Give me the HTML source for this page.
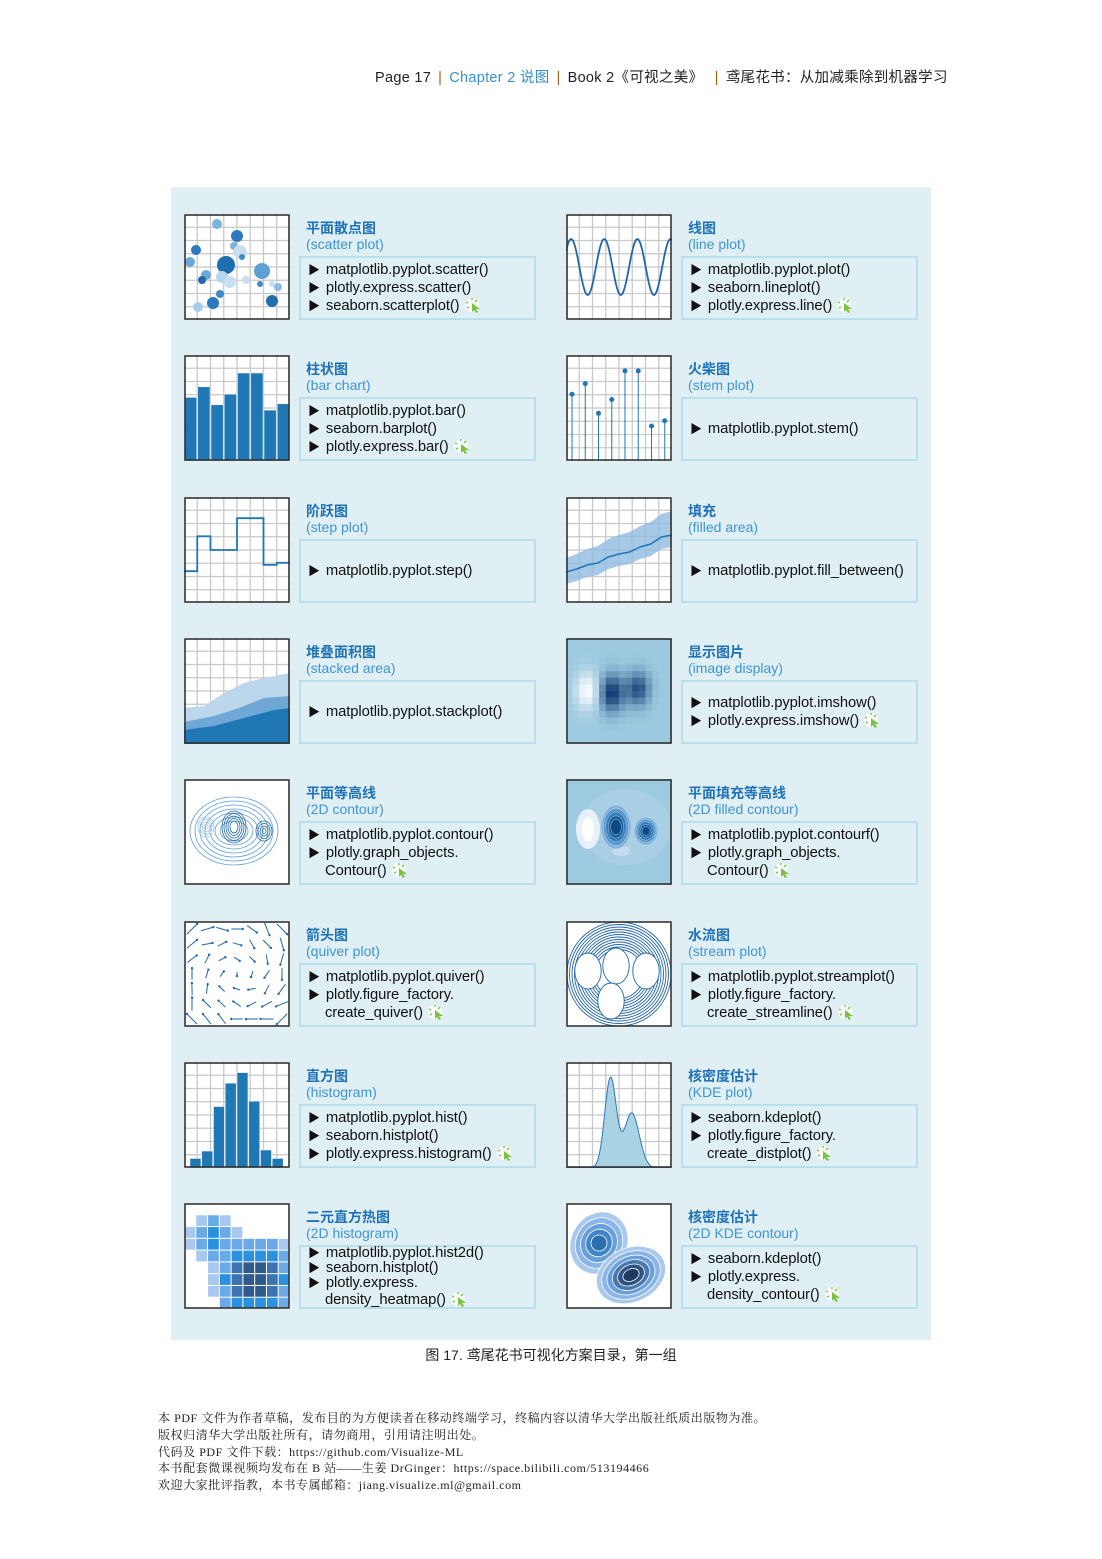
<!DOCTYPE html>
<html><head><meta charset="utf-8"><style>
body{margin:0;background:#fff;}
#page{position:relative;width:1102px;height:1559px;overflow:hidden;font-family:"Liberation Sans","Noto Sans CJK SC",sans-serif;}
.hdr{position:absolute;top:66px;left:375px;font-size:14.5px;color:#222;white-space:nowrap;letter-spacing:0.3px;}
.hdr .sep{color:#b05a10;margin:0 7px;}
.hdr .ch{color:#3a8fd0;}
#panel{position:absolute;left:171px;top:187px;width:760px;height:1153px;background:#dfeff3;}
.thumb{position:absolute;width:106px;height:106px;}
.title{position:absolute;font-size:14px;font-weight:bold;color:#1f72b8;white-space:nowrap;}
.sub{position:absolute;font-size:14px;color:#3d95d6;white-space:nowrap;}
.box{position:absolute;width:237px;height:64px;border:2px solid #b9dfea;display:flex;flex-direction:column;justify-content:center;padding-left:7px;box-sizing:border-box;}
.ln{font-size:14.8px;line-height:18px;color:#111;white-space:nowrap;letter-spacing:-0.1px;}
.tight .ln{line-height:15px;}
.ln .tri{font-size:12px;margin-right:6px;}
.ind{padding-left:17px;}
.cur{display:inline-block;width:18px;height:16px;vertical-align:-3px;margin-left:4px;}
.cap{position:absolute;top:1345px;left:0;width:1102px;text-align:center;font-size:14px;color:#222;}
.foot{position:absolute;left:158px;top:1410px;font-family:"Liberation Serif","Noto Serif CJK SC",serif;font-size:12px;line-height:16.8px;color:#222;white-space:nowrap;letter-spacing:0.55px;}
</style></head><body>
<div id="page">
<div class="hdr">Page 17<span class="sep">|</span><span class="ch">Chapter 2 说图</span><span class="sep">|</span>Book 2《可视之美》<span class="sep"> |</span>鸢尾花书：从加减乘除到机器学习</div>
<div id="panel"></div>
<div class="cap">图 17. 鸢尾花书可视化方案目录，第一组</div>
<div class="foot">本 PDF 文件为作者草稿，发布目的为方便读者在移动终端学习，终稿内容以清华大学出版社纸质出版物为准。<br>版权归清华大学出版社所有，请勿商用，引用请注明出处。<br>代码及 PDF 文件下载：https://github.com/Visualize-ML<br>本书配套微课视频均发布在 B 站——生姜 DrGinger：https://space.bilibili.com/513194466<br>欢迎大家批评指教，本书专属邮箱：jiang.visualize.ml@gmail.com</div>
</div>
<script>
const barValues=[60,70,53,63,83,83,48,54];
const stemValues=[63,73,45,58,85,85,33,38];
const histValues=[9,16,58,80,90,63,17,9];
const stepValues=[30,63,50,50,80,80,36,38];
const items=[
["平面散点图","scatter plot",["matplotlib.pyplot.scatter()","plotly.express.scatter()","seaborn.scatterplot()"],"scatter"],
["线图","line plot",["matplotlib.pyplot.plot()","seaborn.lineplot()","plotly.express.line()"],"line"],
["柱状图","bar chart",["matplotlib.pyplot.bar()","seaborn.barplot()","plotly.express.bar()"],"bar"],
["火柴图","stem plot",["matplotlib.pyplot.stem()"],"stem"],
["阶跃图","step plot",["matplotlib.pyplot.step()"],"step"],
["填充","filled area",["matplotlib.pyplot.fill_between()"],"fill"],
["堆叠面积图","stacked area",["matplotlib.pyplot.stackplot()"],"stack"],
["显示图片","image display",["matplotlib.pyplot.imshow()","plotly.express.imshow()"],"imshow"],
["平面等高线","2D contour",["matplotlib.pyplot.contour()","plotly.graph_objects.","*Contour()"],"contour"],
["平面填充等高线","2D filled contour",["matplotlib.pyplot.contourf()","plotly.graph_objects.","*Contour()"],"contourf"],
["箭头图","quiver plot",["matplotlib.pyplot.quiver()","plotly.figure_factory.","*create_quiver()"],"quiver"],
["水流图","stream plot",["matplotlib.pyplot.streamplot()","plotly.figure_factory.","*create_streamline()"],"stream"],
["直方图","histogram",["matplotlib.pyplot.hist()","seaborn.histplot()","plotly.express.histogram()"],"hist"],
["核密度估计","KDE plot",["seaborn.kdeplot()","plotly.figure_factory.","*create_distplot()"],"kde"],
["二元直方热图","2D histogram",["matplotlib.pyplot.hist2d()","seaborn.histplot()","plotly.express.","*density_heatmap()"],"hist2d"],
["核密度估计","2D KDE contour",["seaborn.kdeplot()","plotly.express.","*density_contour()"],"kde2d"]
];
const noCursor={stem:1,step:1,fill:1,stack:1};
const B='#1f77b4';
function grid(){let s='<rect x="0" y="0" width="106" height="106" fill="#fff"/>';for(let i=1;i<8;i++){const p=i*13.25;s+=`<line x1="${p}" y1="0" x2="${p}" y2="106" stroke="#c8c8c8" stroke-width="1.3"/><line x1="0" y1="${p}" x2="106" y2="${p}" stroke="#c8c8c8" stroke-width="1.3"/>`;}return s;}
function yv(v){return 106-v*106/100;}
function draw(t){
 let s='';
 if(t==='scatter'){s+=grid();const pts=[[33,10,5,'#7fb2dd'],[53,22,6,'#2a78bd'],[12,36,5,'#2a78bd'],[50,32,4,'#7fb2dd'],[56,38,7,'#c9dff1'],[6,48,5,'#6aa8d8'],[42,51,9,'#1f6fb0'],[58,43,3,'#3d8ac8'],[78,57,8,'#5da0d4'],[22,61,5,'#6aa8d8'],[18,66,4,'#2166a8'],[38,63,6,'#b8d5ee'],[46,68,6,'#c9dff1'],[62,66,4,'#c9dff1'],[76,70,3,'#3d8ac8'],[88,70,3,'#c9dff1'],[94,73,4,'#8bbbe2'],[36,80,4,'#3d8ac8'],[29,89,6,'#2a78bd'],[14,93,5,'#a8cdeb'],[88,87,6,'#1f6fb0']];pts.forEach(p=>s+=`<circle cx="${p[0]}" cy="${p[1]}" r="${p[2]}" fill="${p[3]}"/>`);}
 if(t==='line'){s+=grid();let d='';for(let i=0;i<=106;i++){const y=53-28*Math.sin(i/106*Math.PI*2*3.2+0.6);d+=(i?'L':'M')+i+','+y.toFixed(1);}s+=`<path d="${d}" fill="none" stroke="#2166a8" stroke-width="1.8"/>`;}
 if(t==='bar'){s+=grid();const w=106/barValues.length;barValues.forEach((v,i)=>s+=`<rect x="${i*w+0.5}" y="${yv(v)}" width="${w-1}" height="${106-yv(v)}" fill="${B}" stroke="#dfe9f2" stroke-width="0.6"/>`);}
 if(t==='stem'){s+=grid();const w=106/stemValues.length;stemValues.forEach((v,i)=>{const x=6+i*w;s+=`<line x1="${x}" y1="106" x2="${x}" y2="${yv(v)}" stroke="${B}" stroke-width="1"/><circle cx="${x}" cy="${yv(v)}" r="2.5" fill="${B}"/>`;});}
 if(t==='step'){s+=grid();const w=106/stepValues.length;let d='M0,'+yv(stepValues[0]);stepValues.forEach((v,i)=>{d+=`L${i*w},${yv(v)}L${(i+1)*w},${yv(v)}`;});s+=`<path d="${d}" fill="none" stroke="${B}" stroke-width="1.8"/>`;}
 if(t==='fill'){s+=grid();const mid=[75,72,68,66,60,57,55,50,47,40,38];let up='',lo='',m='';mid.forEach((v,i)=>{const x=i*10.6;up+=(i?'L':'M')+x+','+(v-14-i);m+=(i?'L':'M')+x+','+v;});for(let i=mid.length-1;i>=0;i--)lo+='L'+(i*10.6)+','+(mid[i]+12);s+=`<path d="${up}${lo}Z" fill="#8fbbe0" opacity="0.8"/><path d="${m}" fill="none" stroke="${B}" stroke-width="1.5"/>`;}
 if(t==='stack'){s+=grid();s+=`<path d="M0,70 L20,68 L40,55 L60,45 L80,40 L106,35 L106,106 L0,106Z" fill="#bcd6ec"/><path d="M0,84 L30,78 L55,70 L80,60 L106,58 L106,106 L0,106Z" fill="#6fa7d6"/><path d="M0,92 L30,88 L60,80 L90,72 L106,70 L106,106 L0,106Z" fill="${B}"/>`;}
 if(t==='imshow'){s+='<rect width="106" height="106" fill="#9ecae1"/>';const n=16,cell=106/n;for(let i=0;i<n;i++)for(let j=0;j<n;j++){const x=(j+.5)/n,y=(i+.5)/n;const v=0.55*Math.exp(-((x-0.2)**2/0.012+(y-0.5)**2/0.03))-0.6*Math.exp(-((x-0.43)**2/0.015+(y-0.52)**2/0.03))-0.5*Math.exp(-((x-0.68)**2/0.012+(y-0.48)**2/0.025));let r,g,b;if(v>0){r=158+97*v*1.8;g=202+53*v*1.8;b=225+30*v*1.8;}else{const a=Math.min(1,-v*1.6);r=158-150*a;g=202-154*a;b=225-118*a;}s+=`<rect x="${j*cell}" y="${i*cell}" width="${cell+0.3}" height="${cell+0.3}" fill="rgb(${Math.min(255,r)|0},${Math.min(255,g)|0},${Math.min(255,b)|0})"/>`;}}
 if(t==='contour'){s+='<rect width="106" height="106" fill="#fff"/>';for(let k=0;k<7;k++){s+=`<ellipse cx="50" cy="52" rx="${44-k*5}" ry="${34-k*4}" fill="none" stroke="#5d9fd3" stroke-width="0.8"/>`;}[[50,48],[80,52],[22,48]].forEach((c,idx)=>{for(let k=0;k<5;k++)s+=`<ellipse cx="${c[0]}" cy="${c[1]}" rx="${(idx==0?12:8)-k*2}" ry="${(idx==0?16:10)-k*2.5}" fill="none" stroke="${idx==2?'#9cc4e6':'#2166a8'}" stroke-width="0.8"/>`;});}
 if(t==='contourf'){s+='<rect width="106" height="106" fill="#9ecae1"/><ellipse cx="60" cy="48" rx="45" ry="38" fill="#a9cfe4"/><ellipse cx="22" cy="50" rx="12" ry="20" fill="#e8f1fa"/><ellipse cx="22" cy="50" rx="6" ry="12" fill="#fff"/><ellipse cx="55" cy="72" rx="9" ry="5" fill="#c5dcef"/>';['#7fb3dc','#5596cb','#3479b9','#1d5f9f','#0b4a87'].forEach((c,k)=>{s+=`<ellipse cx="50" cy="48" rx="${15-k*2.4}" ry="${22-k*3.6}" fill="${c}" stroke="#cfe2f1" stroke-width="0.4"/><ellipse cx="80" cy="52" rx="${12-k*2}" ry="${14-k*2.4}" fill="${c}" stroke="#cfe2f1" stroke-width="0.4"/>`;});}
 if(t==='quiver'){s+='<rect width="106" height="106" fill="#fff"/>';for(let i=0;i<7;i++)for(let j=0;j<7;j++){const x=8+j*15,y=8+i*15;const a=Math.atan2(y-53,x-53)+Math.PI/2+(i*7+j)%3*0.3;const L=2+Math.hypot(x-53,y-53)/12;const dx=Math.cos(a)*L,dy=Math.sin(a)*L;s+=`<line x1="${x-dx}" y1="${y-dy}" x2="${x+dx}" y2="${y+dy}" stroke="#2166a8" stroke-width="1"/><circle cx="${x+dx}" cy="${y+dy}" r="1.2" fill="#2166a8"/>`;}}
 if(t==='stream'){s+='<rect width="106" height="106" fill="#fff"/>';for(let k=0;k<12;k++)s+=`<ellipse cx="53" cy="53" rx="${52-k*2.5}" ry="${52-k*2.5}" fill="none" stroke="#2166a8" stroke-width="0.9"/>`;[[22,50],[50,45],[80,50],[45,80]].forEach(c=>{for(let k=1;k<7;k++)s+=`<ellipse cx="${c[0]}" cy="${c[1]}" rx="${k*2.2}" ry="${k*3}" fill="#fff" stroke="#2166a8" stroke-width="0.9"/>`;});}
 if(t==='hist'){s+=grid();const w=(106-12)/histValues.length;histValues.forEach((v,i)=>s+=`<rect x="${6+i*w}" y="${yv(v)}" width="${w-0.8}" height="${106-yv(v)}" fill="${B}" stroke="#e5eef6" stroke-width="0.6"/>`);}
 if(t==='kde'){s+=grid();let d='M0,106';for(let i=0;i<=106;i++){const x=i/106;const y=90*Math.exp(-((x-0.42)**2)/0.006)+55*Math.exp(-((x-0.62)**2)/0.01);d+=`L${i},${(106-y).toFixed(1)}`;}d+='L106,106Z';s+=`<path d="${d}" fill="#a9d3e3" stroke="#2a78bd" stroke-width="1"/>`;}
 if(t==='hist2d'){s+='<rect width="106" height="106" fill="#fff"/>';const cols=['#a8c8f0','#6aaae8','#2a90e0','#3b74b0','#2f5a8a','#1d3f66'];const cw=106/9;for(let i=0;i<9;i++)for(let j=0;j<9;j++){const d1=Math.hypot(j-2,i-2.5),d2=Math.hypot(j-5.5,i-6);const v=Math.max(3-d1*1.2,5.5-d2*1.3);if(v>0.3)s+=`<rect x="${j*cw+0.5}" y="${i*cw+0.5}" width="${cw-1}" height="${cw-1}" fill="${cols[Math.min(5,Math.floor(v))]}"/>`;}}
 if(t==='kde2d'){s+='<rect width="106" height="106" fill="#fff"/>';const c1=['#a9c9ef','#8ab5e8','#6a9fdc','#3f85c8','#2a6eb0'];c1.forEach((c,k)=>{s+=`<ellipse cx="33" cy="40" rx="${28-k*5}" ry="${32-k*6}" transform="rotate(30 33 40)" fill="${c}" stroke="#fff" stroke-width="0.8"/>`;});['#a9c9ef','#8ab5e8','#6a9fdc','#4978b0','#2e5380','#1f3c60'].forEach((c,k)=>{s+=`<ellipse cx="65" cy="72" rx="${36-k*5.5}" ry="${27-k*4.2}" transform="rotate(-25 65 72)" fill="${c}" stroke="#fff" stroke-width="0.8"/>`;});}
 s+='<rect x="1" y="1" width="104" height="104" fill="none" stroke="#333" stroke-width="1.6"/>';
 return `<svg width="106" height="106" viewBox="0 0 106 106">${s}</svg>`;
}
const cursorSvg='<svg class="cur" viewBox="0 0 18 16"><circle cx="8" cy="8" r="7" fill="#fff" opacity="0.8"/><g stroke="#7cc242" stroke-width="1.4"><line x1="8" y1="1" x2="8" y2="3"/><line x1="2" y1="5" x2="4" y2="6"/><line x1="3" y1="11" x2="5" y2="10"/><line x1="13" y1="3" x2="11" y2="5"/></g><path d="M8,6 L16,12 L12,12 L14,15 L12,16 L10,13 L8,15Z" fill="#7cc242"/></svg>';
const page=document.getElementById('page');
items.forEach((it,idx)=>{
 const col=idx%2,row=Math.floor(idx/2);
 const tx=col?566:184,ty=214+row*141.3;
 const th=document.createElement('div');th.className='thumb';th.style.left=tx+'px';th.style.top=ty+'px';th.innerHTML=draw(it[3]);
 
 
 page.appendChild(th);
 const ti=document.createElement('div');ti.className='title';ti.style.left=(tx+122)+'px';ti.style.top=(ty+4)+'px';ti.textContent=it[0];
 
 
 page.appendChild(ti);
 const su=document.createElement('div');su.className='sub';su.style.left=(tx+122)+'px';su.style.top=(ty+22)+'px';su.textContent='('+it[1]+')';
 
 
 page.appendChild(su);
 const bx=document.createElement('div');bx.className='box'+(it[2].length>3?' tight':'');bx.style.left=(tx+115)+'px';bx.style.top=(ty+42)+'px';
 
 
 let h='';it[2].forEach((l,k)=>{const last=k===it[2].length-1&&!noCursor[it[3]];if(l[0]==='*')h+=`<div class="ln ind">${l.slice(1)}${last?cursorSvg:''}</div>`;else h+=`<div class="ln"><span class="tri">▶</span>${l}${last?cursorSvg:''}</div>`;});
 bx.innerHTML=h;page.appendChild(bx);
});
</script>
</body></html>
